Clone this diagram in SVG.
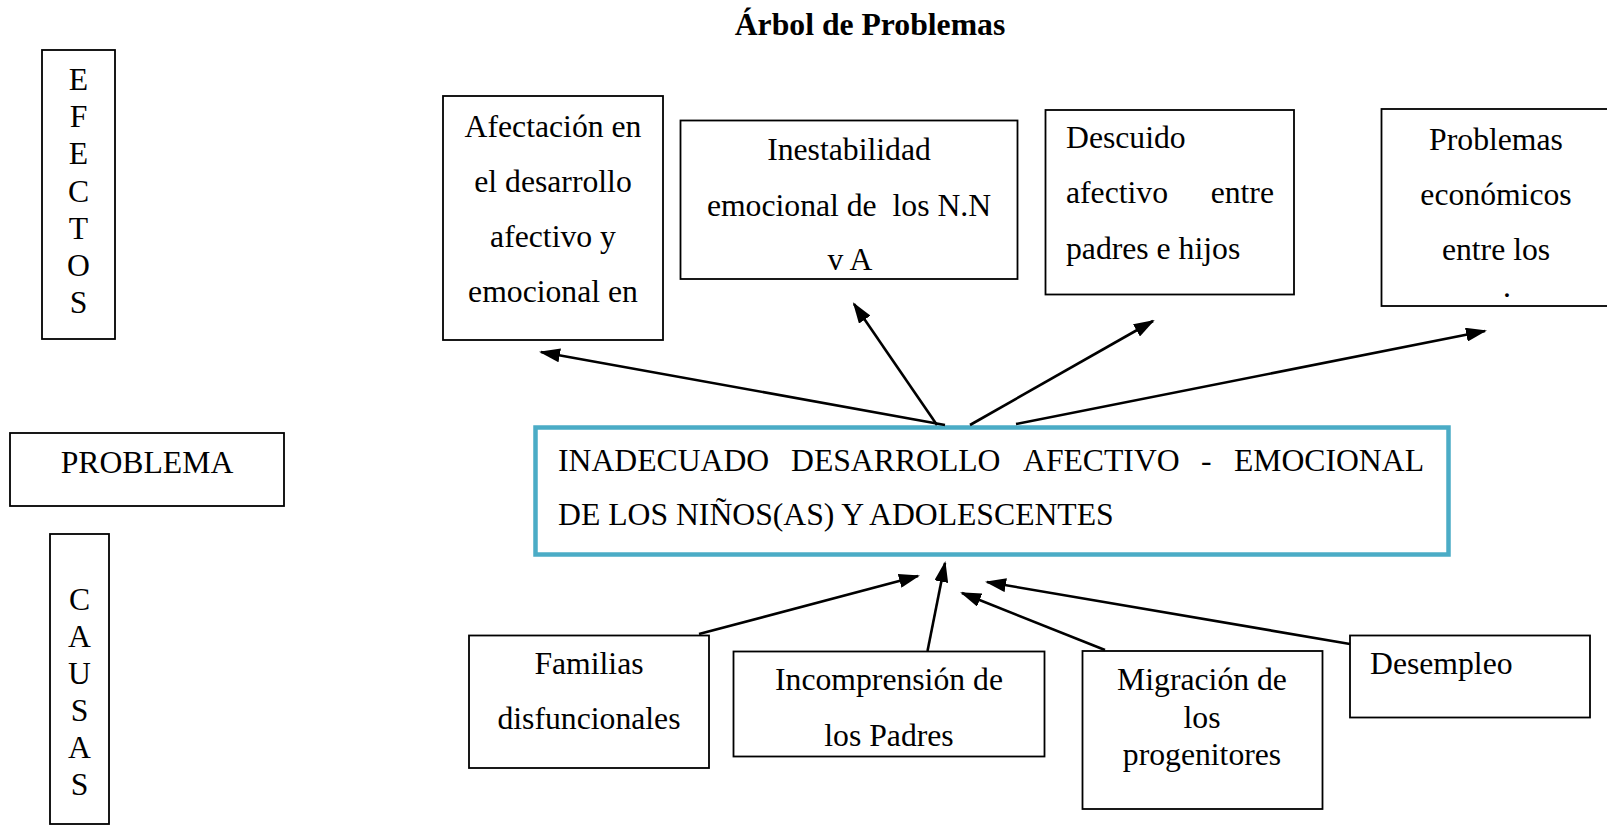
<svg xmlns="http://www.w3.org/2000/svg" width="1607" height="827" viewBox="0 0 1607 827">
<defs>
<style>
text{font-family:"Liberation Serif","Times New Roman",serif;font-size:31.7px;fill:#000}
.c{text-anchor:middle}
.e{text-anchor:end}
.b{fill:#fff;stroke:#000;stroke-width:1.8}
.main{fill:#fff;stroke:#4BACC6;stroke-width:4.5}
.t{font-weight:bold}
.ar{stroke:#000;stroke-width:2.6;fill:none;marker-end:url(#ah)}
</style>
<marker id="ah" markerUnits="userSpaceOnUse" markerWidth="22" markerHeight="14" refX="19" refY="7" orient="auto">
<path d="M0,0 L21,7 L0,14 z" fill="#000"/>
</marker>
</defs>
<rect width="1607" height="827" fill="#fff"/>
<text class="c t" x="870" y="35">Árbol de Problemas</text>

<g id="efectos">
<rect class="b" x="42" y="50" width="73" height="289"/>
<text class="c" x="78.5" y="90">E</text>
<text class="c" x="78.5" y="127.2">F</text>
<text class="c" x="78.5" y="164.4">E</text>
<text class="c" x="78.5" y="201.6">C</text>
<text class="c" x="78.5" y="238.8">T</text>
<text class="c" x="78.5" y="276">O</text>
<text class="c" x="78.5" y="313.2">S</text>
</g>

<g id="problema-label">
<rect class="b" x="10" y="433" width="274" height="73"/>
<text class="c" x="147" y="473">PROBLEMA</text>
</g>

<g id="causas">
<rect class="b" x="50" y="534" width="59" height="290"/>
<text class="c" x="79.5" y="610">C</text>
<text class="c" x="79.5" y="647">A</text>
<text class="c" x="79.5" y="684">U</text>
<text class="c" x="79.5" y="721">S</text>
<text class="c" x="79.5" y="758">A</text>
<text class="c" x="79.5" y="795">S</text>
</g>

<g id="afectacion">
<rect class="b" x="443" y="96" width="220" height="244"/>
<text class="c" x="553" y="137">Afectación en</text>
<text class="c" x="553" y="192">el desarrollo</text>
<text class="c" x="553" y="247">afectivo y</text>
<text class="c" x="553" y="302">emocional en</text>
</g>

<g id="inestabilidad">
<rect class="b" x="680.5" y="120.5" width="337" height="158.5"/>
<text class="c" x="849" y="160">Inestabilidad</text>
<text class="c" x="849" y="216" xml:space="preserve">emocional de  los N.N</text>
<text class="c" x="850" y="270">v A</text>
</g>

<g id="descuido">
<rect class="b" x="1045.5" y="110" width="248.5" height="184.5"/>
<text x="1066" y="148">Descuido</text>
<text x="1066" y="203">afectivo</text>
<text class="e" x="1274" y="203">entre</text>
<text x="1066" y="259">padres e hijos</text>
</g>

<g id="problemas-economicos">
<rect class="b" x="1381.5" y="109" width="240" height="197"/>
<text class="c" x="1496" y="150">Problemas</text>
<text class="c" x="1496" y="205">económicos</text>
<text class="c" x="1496" y="260">entre los</text>
<text class="c" x="1507" y="297">.</text>
</g>

<g id="problema-central">
<rect class="main" x="535.5" y="427.5" width="913" height="127"/>
<text x="558" y="471">INADECUADO</text>
<text x="791" y="471">DESARROLLO</text>
<text x="1023" y="471">AFECTIVO</text>
<text x="1201" y="471">-</text>
<text class="e" x="1424" y="471">EMOCIONAL</text>
<text x="558" y="525">DE LOS NIÑOS(AS) Y ADOLESCENTES</text>
</g>

<g id="familias">
<rect class="b" x="469" y="635.5" width="240" height="132.5"/>
<text class="c" x="589" y="674">Familias</text>
<text class="c" x="589" y="729">disfuncionales</text>
</g>

<g id="incomprension">
<rect class="b" x="733.5" y="651.5" width="311" height="105"/>
<text class="c" x="889" y="690">Incomprensión de</text>
<text class="c" x="889" y="746">los Padres</text>
</g>

<g id="migracion">
<rect class="b" x="1082.5" y="651" width="240" height="158"/>
<text class="c" x="1202" y="690">Migración de</text>
<text class="c" x="1202" y="728">los</text>
<text class="c" x="1202" y="765">progenitores</text>
</g>

<g id="desempleo">
<rect class="b" x="1350" y="635.5" width="240" height="82"/>
<text x="1370" y="674">Desempleo</text>
</g>

<g id="connectors">
<line class="ar" x1="945" y1="425" x2="541" y2="352"/>
<line class="ar" x1="937" y1="425" x2="854" y2="304"/>
<line class="ar" x1="970" y1="425" x2="1153" y2="321"/>
<line class="ar" x1="1016" y1="424" x2="1485" y2="331"/>
<line class="ar" x1="699" y1="634" x2="918" y2="576"/>
<line class="ar" x1="927.5" y1="651" x2="945" y2="563"/>
<line class="ar" x1="1105" y1="650" x2="962" y2="593"/>
<line class="ar" x1="1350" y1="644" x2="987" y2="582"/>
</g>
</svg>
